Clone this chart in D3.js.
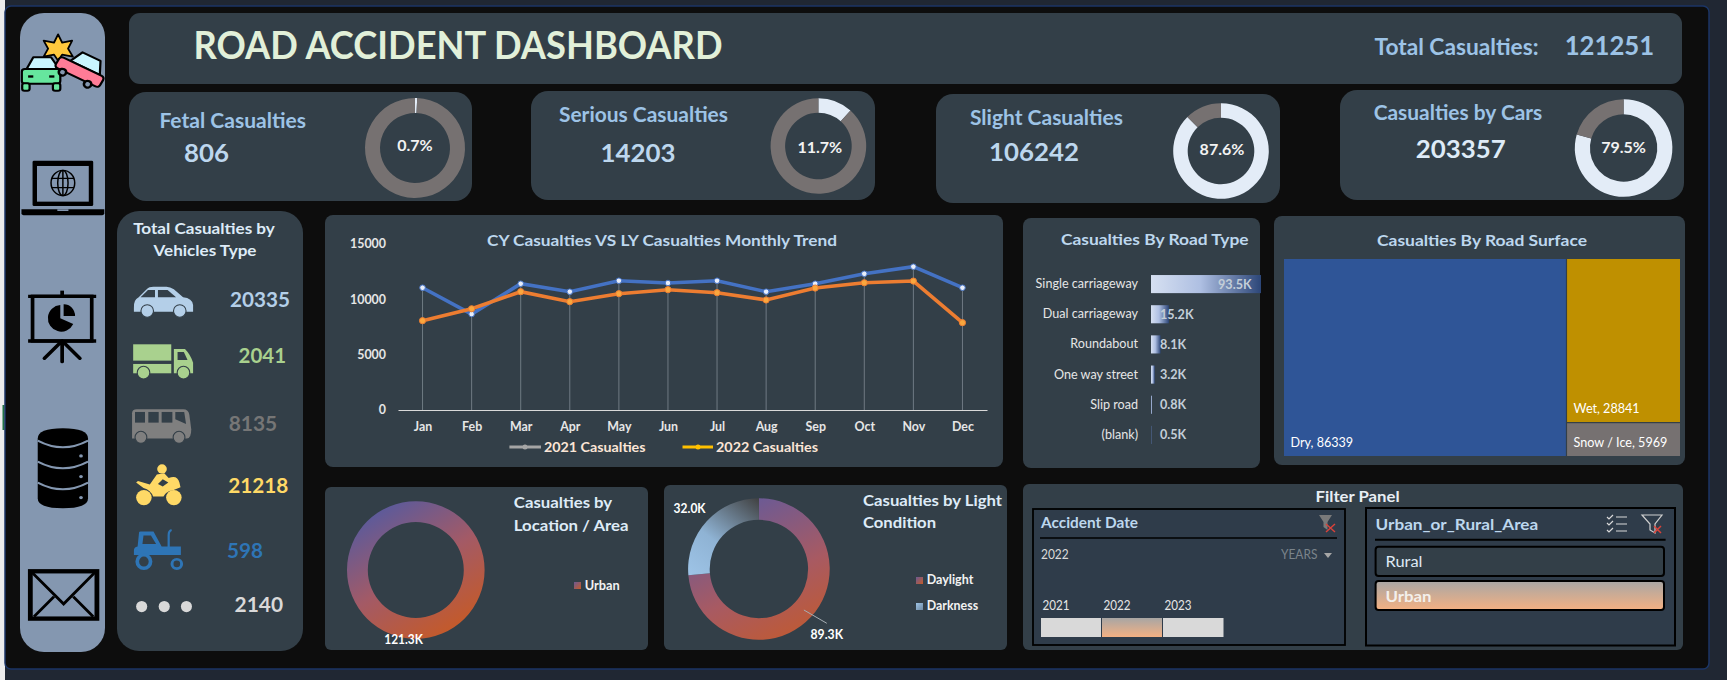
<!DOCTYPE html>
<html>
<head>
<meta charset="utf-8">
<script src="https://cdn.jsdelivr.net/npm/d3@7/dist/d3.min.js"></script>
<style>
  html, body { margin: 0; padding: 0; background: #202733; overflow: hidden; }
  svg { display: block; font-family: Lato, "Open Sans", sans-serif; }
</style>
</head>
<body>
<div id="plot_area"></div>
<script>
// Chart values
const months = ['Jan', 'Feb', 'Mar', 'Apr', 'May', 'Jun', 'Jul', 'Aug', 'Sep', 'Oct', 'Nov', 'Dec'];
const casualties2021 = [11050, 8670, 11410, 10690, 11680, 11475, 11680, 10690, 11410, 12310, 12950, 11050];
const casualties2022 = [8070, 9150, 10690, 9785, 10510, 10870, 10600, 9940, 11020, 11500, 11650, 7890];
const yTicks = [0, 5000, 10000, 15000];

const kpiShares = [0.7, 11.7, 87.6, 79.5];

const roadTypes = ['Single carriageway', 'Dual carriageway', 'Roundabout', 'One way street', 'Slip road', '(blank)'];
const roadTypeValues = [93.5, 15.2, 8.1, 3.2, 0.8, 0.5];

const surfaceNames = ['Dry', 'Wet', 'Snow / Ice'];
const surfaceValues = [86339, 28841, 5969];

const locationNames = ['Urban'];
const locationValues = [121.3];
const lightNames = ['Daylight', 'Darkness'];
const lightValues = [89.3, 32.0];

const panelColor = '#333f48';
const barColor = '#8497b0';

const svg = d3.select('#plot_area')
  .append('svg')
  .attr('width', 1727)
  .attr('height', 680);

const defs = svg.append('defs');

function gradient(id, stops, x1, y1, x2, y2, userSpace) {
  const g = defs.append('linearGradient')
    .attr('id', id)
    .attr('x1', x1).attr('y1', y1).attr('x2', x2).attr('y2', y2);
  if (userSpace) g.attr('gradientUnits', 'userSpaceOnUse');
  stops.forEach(s => g.append('stop').attr('offset', s[0]).attr('stop-color', s[1]));
}

gradient('barFill', [[0, '#d6e0f1'], [0.45, '#aebfe2'], [1, '#2c4678']], 0, 0, 1, 0);
gradient('pickFill', [[0, '#a8a6a4'], [1, '#f4b183']], 0, 0, 0, 1);
gradient('locFill', [[0, '#5a5a9c'], [0.5, '#a35a66'], [1, '#c55a28']], 0.22, 0.05, 0.78, 0.95);
// the ring gradients run in the ring's own coordinates, centre at 0,0
gradient('dayFill', [[0, '#6c5a94'], [0.5, '#a85a62'], [1, '#c55a28']], 1, -71, 71, 71, true);
gradient('darkFill', [[0, '#9dc3e6'], [0.4, '#8fb3d4'], [1, '#3f3f3f']], -62, 10, 1, -71, true);
gradient('swatchDay', [[0, '#6c5a94'], [1, '#c55a28']], 0, 0, 1, 1);
gradient('swatchDark', [[0, '#9dc3e6'], [1, '#6f8aa3']], 0, 0, 1, 1);

// Backdrop: sheet edge, dark canvas
svg.append('rect').attr('width', 5).attr('height', 680).attr('fill', '#ececec');
svg.append('rect').attr('x', 2.5).attr('y', 405).attr('width', 2).attr('height', 25).attr('fill', '#217346');
svg.append('rect').attr('x', 5).attr('y', 6).attr('width', 1704).attr('height', 663).attr('rx', 6)
  .attr('fill', '#0d0d0d').attr('stroke', '#1b3566').attr('stroke-width', 1.5);

function panel(x0, y0, x1, y1, r, fill) {
  svg.append('rect')
    .attr('x', x0).attr('y', y0)
    .attr('width', x1 - x0).attr('height', y1 - y0)
    .attr('rx', r)
    .attr('fill', fill || panelColor);
}

panel(20, 13, 105, 652, 24, barColor);    // side bar
panel(129, 13, 1682, 84, 11);             // title
panel(129, 92, 472, 201, 17);             // kpi cards
panel(531, 91, 875, 200, 17);
panel(936, 94, 1280, 203, 17);
panel(1340, 90, 1684, 200, 17);
panel(117, 211, 303, 651, 22);            // vehicles
panel(325, 215, 1003, 467, 8);            // trend
panel(1023, 218, 1260, 468, 8);           // road type
panel(1274, 216, 1685, 465, 8);           // road surface
panel(325, 487, 648, 650, 6);             // location
panel(664, 485, 1007, 650, 6);            // light
panel(1023, 484, 1683, 650, 6);           // filter

// Text helper, w fits the string to the width seen in the picture
function label(str, x, y, size, color, weight, anchor, w) {
  const t = svg.append('text')
    .attr('x', x).attr('y', y)
    .attr('font-size', size)
    .attr('fill', color)
    .attr('font-weight', weight || 400)
    .attr('text-anchor', anchor || 'start')
    .text(str);
  if (w) t.attr('textLength', w).attr('lengthAdjust', 'spacingAndGlyphs');
  return t;
}

// Header
label('ROAD ACCIDENT DASHBOARD', 193.5, 59, 37.5, '#e2f0d9', 700, 'start', 529);
label('Total Casualties:', 1374.5, 55, 22, '#9dc3e6', 700, 'start', 164);
label('121251', 1564.7, 55, 26, '#9dc3e6', 700, 'start', 89.5);

// KPI cards
label('Fetal Casualties', 159.4, 128, 21.5, '#9dc3e6', 700, 'start', 146.6);
label('806', 184, 162, 25.5, '#bdd7ee', 700, 'start', 45);
label('Serious Casualties', 559, 122, 21.5, '#9dc3e6', 700, 'start', 169);
label('14203', 600.4, 162, 25.5, '#bdd7ee', 700, 'start', 75);
label('Slight Casualties', 970, 125, 21.5, '#9dc3e6', 700, 'start', 153);
label('106242', 989, 161, 25.5, '#bdd7ee', 700, 'start', 90);
label('Casualties by Cars', 1373.7, 120, 21.5, '#9dc3e6', 700, 'start', 168.6);
label('203357', 1415.7, 158, 25.5, '#deebf7', 700, 'start', 90);

const kpiRings = [
  { cx: 415, cy: 148, r0: 35, r1: 50, tx: 415, ty: 151 },
  { cx: 818.4, cy: 146, r0: 33.3, r1: 47.8, tx: 819.8, ty: 153 },
  { cx: 1221, cy: 151, r0: 33.3, r1: 47.8, tx: 1222, ty: 155 },
  { cx: 1623.6, cy: 148, r0: 33.7, r1: 48.8, tx: 1623.6, ty: 153 }
];
const ringColors = ['#e3ecf7', '#767171'];

kpiShares.forEach(function (share, i) {
  const ring = kpiRings[i];
  const arc = d3.arc().innerRadius(ring.r0).outerRadius(ring.r1);
  svg.append('g')
    .attr('transform', 'translate(' + ring.cx + ',' + ring.cy + ')')
    .selectAll('path')
    .data(d3.pie().sort(null)([share, 100 - share]))
    .join('path')
    .attr('d', arc)
    .attr('fill', (d, j) => ringColors[j]);
  label(share + '%', ring.tx, ring.ty, 16, '#f2f2f2', 700, 'middle');
});

// Vehicles list
label('Total Casualties by', 204, 234, 15.5, '#deebf7', 700, 'middle', 141.7);
label('Vehicles Type', 205, 256, 15.5, '#deebf7', 700, 'middle', 103);
label('20335', 230, 307, 21, '#b4cfe8', 700, 'start', 60);
label('2041', 238.6, 363, 21, '#a9d18e', 700, 'start', 47.4);
label('8135', 228.7, 431, 21, '#767676', 700, 'start', 48.5);
label('21218', 228.3, 493, 21, '#ffd966', 700, 'start', 60);
label('598', 227, 558, 21, '#2e75b6', 700, 'start', 36);
label('2140', 234.6, 612, 21, '#d9d9d9', 700, 'start', 48.4);

// Icons are sketched in crop units, then squeezed back to page pixels
svg.append('g')
  .attr('transform', 'scale(0.3699,0.3333)')
  .html(`
  <g stroke="#000" stroke-width="6" stroke-linejoin="round">
    <polygon fill="#ffc83d" stroke-width="5" points="157,103 168,128 195,122 184,146 197,170 168,164 157,182 146,164 118,170 130,146 118,122 146,128"/>
    <path d="M72,207 L90,172 L138,172 L160,207 Z" fill="#c9f5ff"/>
    <rect x="59" y="207" width="104" height="44" rx="8" fill="#66e69e"/>
    <rect x="60" y="250" width="20" height="22" rx="6" fill="#66e69e"/>
    <rect x="143" y="250" width="20" height="22" rx="6" fill="#66e69e"/>
    <g transform="rotate(28 215 215)">
      <path d="M178,198 L195,160 L250,160 L268,198 Z" fill="#c9f5ff"/>
      <rect x="148" y="198" width="135" height="36" rx="9" fill="#ff7c97"/>
      <circle cx="175" cy="238" r="10" fill="${barColor}" stroke-width="7"/>
      <circle cx="252" cy="238" r="10" fill="${barColor}" stroke-width="7"/>
    </g>
    <rect x="76" y="226" width="14" height="7" fill="#000" stroke="none"/>
    <rect x="133" y="226" width="14" height="7" fill="#000" stroke="none"/>
  </g>

  <rect x="88" y="482" width="164" height="136" rx="4" fill="#000"/>
  <rect x="100" y="498" width="140" height="107" fill="${barColor}"/>
  <path d="M58,628 H282 V640 Q282,646 272,646 H68 Q58,646 58,640 Z" fill="#000"/>
  <rect x="155" y="628" width="30" height="5" fill="${barColor}"/>
  <g fill="none" stroke="#000" stroke-width="4">
    <ellipse cx="170" cy="549" rx="32" ry="38"/>
    <ellipse cx="170" cy="549" rx="14" ry="38"/>
    <path d="M170,511 V587 M140,535 H200 M140,563 H200"/>
  </g>

  <g stroke="#000" fill="none" stroke-width="10">
    <path d="M76,889 H260 M76,1023 H260"/>
    <rect x="88" y="889" width="160" height="134"/>
    <path d="M168,1023 V1085 M168,1023 L120,1075 M168,1023 L216,1075" stroke-linecap="round"/>
    <path d="M168,872 V889"/>
  </g>
  <path d="M163,915 A36,40 0 1 0 198,972 L163,955 Z" fill="#000"/>
  <path d="M172,913 A30,36 0 0 1 203,948 L172,948 Z" fill="#000"/>

  <path d="M102,1316 Q102,1285 170,1285 Q238,1285 238,1316 V1495 Q238,1525 170,1525 Q102,1525 102,1495 Z" fill="#000"/>
  <g fill="none" stroke="${barColor}" stroke-width="6">
    <path d="M102,1322 Q170,1362 238,1322"/>
    <path d="M102,1385 Q170,1425 238,1385"/>
    <path d="M102,1448 Q170,1488 238,1448"/>
  </g>
  <g fill="${barColor}">
    <circle cx="219" cy="1368" r="5"/><circle cx="219" cy="1430" r="5"/><circle cx="219" cy="1493" r="5"/>
  </g>

  <rect x="82" y="1714" width="180" height="142" fill="none" stroke="#000" stroke-width="13"/>
  <g fill="none" stroke="#000" stroke-width="8">
    <path d="M85,1716 L172,1812 L258,1716"/>
    <path d="M92,1850 L146,1790 M252,1850 L198,1790"/>
  </g>

  <g fill="#b4cfe8">
    <path d="M362,925 Q360,900 375,892 L398,866 Q402,860 415,860 L450,860 Q460,860 470,868 L495,892 Q520,895 522,915 L522,935 L362,935 Z"/>
    <ellipse cx="398" cy="933" rx="17" ry="19" stroke="${panelColor}" stroke-width="3"/>
    <ellipse cx="486" cy="933" rx="17" ry="19" stroke="${panelColor}" stroke-width="3"/>
  </g>
  <g fill="${panelColor}">
    <polygon points="380,892 400,870 419,870 419,892"/>
    <polygon points="427,892 427,870 453,870 476,892"/>
  </g>

  <g fill="#a9d18e">
    <rect x="360" y="1033" width="103" height="49"/>
    <rect x="360" y="1092" width="103" height="28"/>
    <path d="M470,1047 L500,1047 Q514,1062 522,1088 L522,1120 L470,1120 Z"/>
    <ellipse cx="388" cy="1118" rx="17" ry="19" stroke="${panelColor}" stroke-width="3"/>
    <ellipse cx="496" cy="1118" rx="17" ry="19" stroke="${panelColor}" stroke-width="3"/>
  </g>
  <polygon points="480,1056 497,1056 507,1080 480,1080" fill="${panelColor}"/>

  <g fill="#7f7f7f">
    <path d="M370,1228 H495 Q510,1228 512,1245 L517,1288 Q517,1316 505,1316 H357 V1240 Q357,1228 370,1228 Z"/>
    <ellipse cx="381" cy="1312" rx="16" ry="18" stroke="${panelColor}" stroke-width="3"/>
    <ellipse cx="484" cy="1312" rx="16" ry="18" stroke="${panelColor}" stroke-width="3"/>
  </g>
  <g fill="${panelColor}">
    <rect x="365" y="1236" width="27" height="32"/>
    <rect x="401" y="1236" width="28" height="32"/>
    <rect x="437" y="1236" width="29" height="32"/>
    <path d="M474,1236 H498 L503,1272 L474,1258 Z"/>
  </g>

  <g fill="#ffd966">
    <ellipse cx="438" cy="1407" rx="13" ry="14"/>
    <ellipse cx="389" cy="1493" rx="21" ry="23"/>
    <ellipse cx="470" cy="1493" rx="21" ry="23"/>
    <path d="M368,1448 L373,1443 L405,1454 L424,1424 L444,1420 L456,1434 Q480,1424 485,1448 L488,1462 L466,1472 Q450,1474 442,1490 H414 Q408,1470 388,1464 Z"/>
  </g>
  <polygon points="440,1438 455,1448 440,1460 427,1452" fill="${panelColor}"/>

  <g fill="#2e75b6">
    <path d="M372,1640 L376,1597 Q376,1595 380,1595 L415,1595 L437,1640 H489 V1665 H362 V1652 Q362,1642 372,1640 Z"/>
    <path d="M456,1642 V1606 Q456,1592 464,1590" fill="none" stroke="#2e75b6" stroke-width="6"/>
    <ellipse cx="389" cy="1685" rx="18" ry="20" fill="${panelColor}" stroke="#2e75b6" stroke-width="10"/>
    <ellipse cx="478" cy="1692" rx="13" ry="14" fill="${panelColor}" stroke="#2e75b6" stroke-width="8"/>
  </g>
  <polygon points="388,1607 408,1607 422,1632 385,1632" fill="${panelColor}"/>

  <g fill="#d9d9d9">
    <ellipse cx="383" cy="1820" rx="15" ry="17"/>
    <ellipse cx="444" cy="1820" rx="15" ry="17"/>
    <ellipse cx="504" cy="1820" rx="15" ry="17"/>
  </g>
  `);

// Monthly trend
const xScale = d3.scalePoint()
  .domain(months)
  .range([398, 987])
  .padding(0.5);

const yScale = d3.scaleLinear()
  .domain([0, 15000])
  .range([410, 244]);

label('CY Casualties VS LY Casualties Monthly Trend', 487, 246, 15.5, '#bdd7ee', 700, 'start', 350);

// drop lines from the axis to the higher series
svg.append('g')
  .selectAll('line')
  .data(months)
  .join('line')
  .attr('x1', d => xScale(d))
  .attr('x2', d => xScale(d))
  .attr('y1', yScale(0))
  .attr('y2', (d, i) => yScale(Math.max(casualties2021[i], casualties2022[i])))
  .attr('stroke', '#6f7a83')
  .attr('stroke-width', 1);

const xAxis = svg.append('g')
  .attr('transform', 'translate(0,' + yScale(0) + ')')
  .call(d3.axisBottom(xScale).tickSize(0).tickPadding(12));
xAxis.select('.domain').attr('stroke', '#d9d9d9').attr('stroke-width', 1.2);
xAxis.selectAll('text')
  .attr('fill', '#e6e6e6').attr('font-size', 12.4).attr('font-weight', 700).attr('font-family', 'Lato');

const yAxis = svg.append('g')
  .attr('transform', 'translate(389,0)')
  .call(d3.axisLeft(yScale).tickValues(yTicks).tickFormat(d3.format('d')).tickSize(0).tickPadding(3));
yAxis.select('.domain').remove();
yAxis.selectAll('text')
  .attr('fill', '#e6e6e6').attr('font-size', 12.4).attr('font-weight', 700).attr('font-family', 'Lato');

const trendLine = d3.line()
  .x((d, i) => xScale(months[i]))
  .y(d => yScale(d));

svg.append('path')
  .datum(casualties2021)
  .attr('fill', 'none')
  .attr('stroke', '#4472c4')
  .attr('stroke-width', 3.6)
  .attr('d', trendLine);
svg.append('g')
  .selectAll('circle')
  .data(casualties2021)
  .join('circle')
  .attr('cx', (d, i) => xScale(months[i]))
  .attr('cy', d => yScale(d))
  .attr('r', 2.8)
  .attr('fill', '#e8eefa')
  .attr('stroke', '#4472c4')
  .attr('stroke-width', 1);

svg.append('path')
  .datum(casualties2022)
  .attr('fill', 'none')
  .attr('stroke', '#ed7d31')
  .attr('stroke-width', 3.6)
  .attr('d', trendLine);
svg.append('g')
  .selectAll('circle')
  .data(casualties2022)
  .join('circle')
  .attr('cx', (d, i) => xScale(months[i]))
  .attr('cy', d => yScale(d))
  .attr('r', 3.1)
  .attr('fill', '#f9a73e')
  .attr('stroke', '#ed7d31')
  .attr('stroke-width', 1);

// legend keeps the odd colours of the original
svg.append('line').attr('x1', 509.4).attr('x2', 541).attr('y1', 447).attr('y2', 447)
  .attr('stroke', '#a5a5a5').attr('stroke-width', 3);
svg.append('circle').attr('cx', 525).attr('cy', 447).attr('r', 2.5).attr('fill', '#a5a5a5');
label('2021 Casualties', 544, 452, 13.5, '#fbe5d6', 700, 'start', 101.5);
svg.append('line').attr('x1', 682.5).attr('x2', 713).attr('y1', 447).attr('y2', 447)
  .attr('stroke', '#ffc000').attr('stroke-width', 3);
svg.append('circle').attr('cx', 698).attr('cy', 447).attr('r', 2.5).attr('fill', '#ffc000');
label('2022 Casualties', 716, 452, 13.5, '#fbe5d6', 700, 'start', 102);

// Road type bars
label('Casualties By Road Type', 1061, 245, 15.5, '#bdd7ee', 700, 'start', 187.6);

const barX = d3.scaleLinear().domain([0, 93.5]).range([1151, 1261]);
const barY = d3.scaleBand()
  .domain(roadTypes)
  .range([269, 450])
  .paddingInner(0.4)
  .paddingOuter(0.2);

svg.append('g')
  .selectAll('rect')
  .data(roadTypes)
  .join('rect')
  .attr('x', barX(0))
  .attr('y', d => barY(d))
  .attr('width', (d, i) => barX(roadTypeValues[i]) - barX(0))
  .attr('height', barY.bandwidth())
  .attr('fill', 'url(#barFill)');

const barAxis = svg.append('g')
  .attr('transform', 'translate(1138,0)')
  .call(d3.axisLeft(barY).tickSize(0).tickPadding(0));
barAxis.select('.domain').remove();
barAxis.selectAll('text')
  .attr('fill', '#e6e6e6').attr('font-size', 12.6).attr('font-family', 'Lato');

svg.append('g')
  .selectAll('text')
  .data(roadTypes)
  .join('text')
  .attr('x', (d, i) => i === 0 ? 1251.6 : 1160)
  .attr('y', d => barY(d) + barY.bandwidth() / 2 + 4.5)
  .attr('text-anchor', (d, i) => i === 0 ? 'end' : 'start')
  .attr('font-size', 12.6)
  .attr('font-weight', 700)
  .attr('fill', '#c3ced8')
  .text((d, i) => roadTypeValues[i].toFixed(1) + 'K');

// Road surface treemap
label('Casualties By Road Surface', 1377, 246, 15.5, '#bdd7ee', 700, 'start', 210);

const surfaceRoot = d3.hierarchy({
  children: surfaceNames.map((name, i) => ({ name: name, value: surfaceValues[i] }))
}).sum(d => d.value);

d3.treemap()
  .tile(d3.treemapBinary)
  .size([396, 197])
  .paddingInner(1.2)(surfaceRoot);

const surfaceColors = { 'Dry': '#2f5597', 'Wet': '#bf9000', 'Snow / Ice': '#767171' };

const cells = svg.append('g')
  .attr('transform', 'translate(1284,259)')
  .selectAll('g')
  .data(surfaceRoot.leaves())
  .join('g')
  .attr('transform', d => 'translate(' + d.x0 + ',' + d.y0 + ')');

cells.append('rect')
  .attr('width', d => d.x1 - d.x0)
  .attr('height', d => d.y1 - d.y0)
  .attr('fill', d => surfaceColors[d.data.name]);

cells.append('text')
  .attr('x', 6.5)
  .attr('y', d => d.y1 - d.y0 - 9)
  .attr('font-size', 12.6)
  .attr('fill', '#ffffff')
  .text(d => d.data.name + ', ' + d.data.value);

// Location ring
label('Casualties by', 513.8, 508, 15.5, '#deebf7', 700, 'start', 98.4);
label('Location / Area', 513.8, 531, 15.5, '#deebf7', 700, 'start', 114.7);

svg.append('g')
  .attr('transform', 'translate(415.8,570)')
  .selectAll('path')
  .data(d3.pie().sort(null)(locationValues))
  .join('path')
  .attr('d', d3.arc().innerRadius(48).outerRadius(68.8))
  .attr('fill', 'url(#locFill)');

svg.append('rect').attr('x', 574).attr('y', 582).attr('width', 7).attr('height', 7).attr('fill', 'url(#swatchDay)');
label(locationNames[0], 584.8, 590, 12.6, '#f2f2f2', 700, 'start', 35);
label(locationValues[0].toFixed(1) + 'K', 384.3, 644, 13, '#ffffff', 700, 'start', 38.6);

// Light ring
label('Casualties by Light', 863, 506, 15.5, '#deebf7', 700, 'start', 139);
label('Condition', 863, 528, 15.5, '#deebf7', 700, 'start', 73);

const lightFills = ['url(#dayFill)', 'url(#darkFill)'];
svg.append('g')
  .attr('transform', 'translate(758.9,569)')
  .selectAll('path')
  .data(d3.pie().sort(null)(lightValues))
  .join('path')
  .attr('d', d3.arc().innerRadius(49.2).outerRadius(70.8))
  .attr('fill', (d, i) => lightFills[i]);

svg.append('line').attr('x1', 803.9).attr('y1', 610).attr('x2', 826.8).attr('y2', 623.3)
  .attr('stroke', '#a6aeb4').attr('stroke-width', 1);
label(lightValues[0].toFixed(1) + 'K', 810.5, 638.7, 13, '#ffffff', 700, 'start', 32.5);
label(lightValues[1].toFixed(1) + 'K', 673.6, 512.7, 13, '#ffffff', 700, 'start', 32);

svg.append('rect').attr('x', 916).attr('y', 577).attr('width', 7).attr('height', 7).attr('fill', 'url(#swatchDay)');
label(lightNames[0], 926.7, 584, 12.6, '#f2f2f2', 700, 'start', 46.6);
svg.append('rect').attr('x', 916).attr('y', 603).attr('width', 7).attr('height', 7).attr('fill', 'url(#swatchDark)');
label(lightNames[1], 926.7, 610, 12.6, '#f2f2f2', 700, 'start', 51.4);

// Filter panel
label('Filter Panel', 1315.6, 502, 15.5, '#e8eef4', 700, 'start', 84);

svg.append('rect').attr('x', 1033).attr('y', 509).attr('width', 312).attr('height', 136)
  .attr('fill', '#2f3c4a').attr('stroke', '#000').attr('stroke-width', 1.8);
label('Accident Date', 1041, 528, 15.5, '#bdd7ee', 700, 'start', 97);
svg.append('line').attr('x1', 1040).attr('x2', 1337).attr('y1', 538).attr('y2', 538)
  .attr('stroke', '#000').attr('stroke-width', 1.4);
svg.append('path').attr('d', 'M1319,515 H1332 L1327.5,522 V530 L1323.5,527 V522 Z').attr('fill', '#7a7a7a');
svg.append('path').attr('d', 'M1326,524 L1335,532 M1335,524 L1326,532')
  .attr('stroke', '#d9423a').attr('stroke-width', 1.5);
label('2022', 1041, 559, 12.6, '#d9d9d9', 400, 'start', 27.7);
label('YEARS', 1281, 559, 12.6, '#7b848b', 400, 'start', 36.4);
svg.append('path').attr('d', 'M1324,553 H1332 L1328,558 Z').attr('fill', '#a6a6a6');

label('2021', 1042.5, 610, 12.6, '#e6e6e6', 400, 'start', 27);
label('2022', 1103.6, 610, 12.6, '#e6e6e6', 400, 'start', 27);
label('2023', 1164.4, 610, 12.6, '#e6e6e6', 400, 'start', 27);
svg.append('rect').attr('x', 1041).attr('y', 618).attr('width', 60).attr('height', 19).attr('fill', '#d9d9d9');
svg.append('rect').attr('x', 1102).attr('y', 618).attr('width', 60).attr('height', 19).attr('fill', 'url(#pickFill)');
svg.append('rect').attr('x', 1163).attr('y', 618).attr('width', 60.5).attr('height', 19).attr('fill', '#d9d9d9');

svg.append('rect').attr('x', 1366).attr('y', 508).attr('width', 309).attr('height', 137.5)
  .attr('fill', '#2f3c4a').attr('stroke', '#000').attr('stroke-width', 2);
label('Urban_or_Rural_Area', 1375.6, 530, 15.5, '#bdd7ee', 700, 'start', 162.6);
svg.append('line').attr('x1', 1375).attr('x2', 1665.6).attr('y1', 539.7).attr('y2', 539.7)
  .attr('stroke', '#000').attr('stroke-width', 2);
svg.append('path')
  .attr('d', 'M1607,517 L1609,519 L1613,515 M1616,517 H1627 M1607,523 L1609,525 L1613,521 M1616,524 H1627 M1607,530 L1609,532 L1613,528 M1616,531 H1627')
  .attr('fill', 'none').attr('stroke', '#d9d9d9').attr('stroke-width', 1.2);
svg.append('path').attr('d', 'M1642,515 H1662 L1655,524 V533 L1650,530 V524 Z')
  .attr('fill', 'none').attr('stroke', '#cfcfcf').attr('stroke-width', 1.2);
svg.append('path').attr('d', 'M1654,526 L1661,533 M1661,526 L1654,533')
  .attr('stroke', '#d9423a').attr('stroke-width', 1.5);

svg.append('rect').attr('x', 1375.6).attr('y', 546.7).attr('width', 288.4).attr('height', 29.3).attr('rx', 3)
  .attr('fill', panelColor).attr('stroke', '#000').attr('stroke-width', 2);
label('Rural', 1385.5, 567, 15.5, '#dee9f5', 400, 'start', 37);
svg.append('rect').attr('x', 1375.6).attr('y', 581).attr('width', 288.4).attr('height', 29).attr('rx', 3)
  .attr('fill', 'url(#pickFill)').attr('stroke', '#000').attr('stroke-width', 2);
label('Urban', 1385.5, 601.7, 15.5, '#f3efeb', 700, 'start', 46);
</script>
</body>
</html>
